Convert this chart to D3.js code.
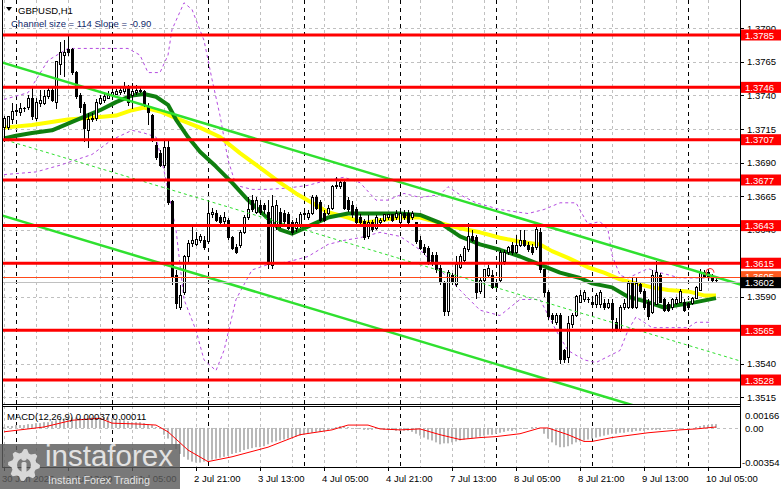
<!DOCTYPE html>
<html><head><meta charset="utf-8">
<script src="https://cdn.jsdelivr.net/npm/d3@7"></script>
<style>
body{margin:0;background:#fff;overflow:hidden}
svg{display:block}
text{font-family:"Liberation Sans",Arial,sans-serif}
</style>
</head><body>
<svg id="c" width="781" height="489"></svg>
<script>
// ---------------- DATA ----------------
const symbolTitle = "GBPUSD,H1";
const channelText = "Channel size = 114 Slope = -0.90";
const macdTitle = "MACD(12,26,9) 0.00037 0.00011";

const openP = [1.3716,1.3716,1.3722,1.3728,1.3727,1.3730,1.3731,1.3738,1.3723,1.3734,
1.3734,1.3739,1.3744,1.3735,1.3763,1.3770,1.3774,1.3774,1.3757,1.3740,
1.3733,1.3714,1.3722,1.3723,1.3734,1.3736,1.3738,1.3740,1.3741,1.3742,
1.3743,1.3746,1.3740,1.3742,1.3744,1.3743,1.3732,1.3725,1.3703,1.3697,
1.3688,1.3701,1.3661,1.3606,1.3582,1.3593,1.3620,1.3630,1.3629,1.3632,
1.3632,1.3631,1.3651,1.3652,1.3649,1.3646,1.3647,1.3634,1.3627,1.3628,
1.3638,1.3649,1.3662,1.3653,1.3658,1.3658,1.3653,1.3613,1.3642,1.3653,
1.3652,1.3651,1.3645,1.3641,1.3642,1.3651,1.3649,1.3652,1.3664,1.3660,
1.3652,1.3652,1.3656,1.3673,1.3672,1.3675,1.3662,1.3658,1.3655,1.3649,
1.3646,1.3635,1.3645,1.3641,1.3645,1.3647,1.3649,1.3651,1.3649,1.3645,
1.3652,1.3652,1.3649,1.3645,1.3632,1.3627,1.3626,1.3621,1.3621,1.3611,
1.3601,1.3579,1.3606,1.3599,1.3612,1.3617,1.3625,1.3635,1.3634,1.3594,
1.3602,1.3606,1.3606,1.3601,1.3602,1.3616,1.3623,1.3628,1.3623,1.3628,
1.3632,1.3628,1.3627,1.3627,1.3638,1.3610,1.3593,1.3576,1.3571,1.3576,
1.3550,1.3545,1.3569,1.3576,1.3586,1.3588,1.3588,1.3586,1.3584,1.3584,
1.3585,1.3582,1.3585,1.3571,1.3565,1.3582,1.3582,1.3601,1.3582,1.3599,
1.3594,1.3586,1.3578,1.3584,1.3606,1.3588,1.3584,1.3582,1.3585,1.3586,
1.3586,1.3585,1.3585,1.3589,1.3595,1.3608,1.3608,1.3605,1.3602];
const highP = [1.3725,1.3725,1.3734,1.3732,1.3734,1.3731,1.3740,1.3746,1.3738,1.3744,
1.3744,1.3746,1.3746,1.3765,1.3780,1.3781,1.3785,1.3775,1.3758,1.3742,
1.3735,1.3727,1.3727,1.3737,1.3740,1.3741,1.3743,1.3743,1.3745,1.3746,
1.3750,1.3748,1.3749,1.3748,1.3746,1.3744,1.3734,1.3726,1.3705,1.3699,
1.3706,1.3707,1.3662,1.3610,1.3599,1.3621,1.3632,1.3642,1.3638,1.3637,
1.3635,1.3662,1.3656,1.3655,1.3651,1.3653,1.3649,1.3635,1.3629,1.3640,
1.3651,1.3664,1.3666,1.3664,1.3662,1.3660,1.3662,1.3666,1.3662,1.3656,
1.3655,1.3653,1.3647,1.3649,1.3653,1.3655,1.3655,1.3666,1.3666,1.3662,
1.3655,1.3658,1.3673,1.3679,1.3678,1.3677,1.3664,1.3661,1.3657,1.3652,
1.3648,1.3651,1.3647,1.3651,1.3649,1.3652,1.3652,1.3652,1.3655,1.3655,
1.3655,1.3655,1.3654,1.3646,1.3635,1.3629,1.3628,1.3623,1.3623,1.3614,
1.3602,1.3610,1.3608,1.3620,1.3622,1.3628,1.3645,1.3640,1.3636,1.3605,
1.3611,1.3614,1.3610,1.3603,1.3625,1.3625,1.3628,1.3631,1.3636,1.3640,
1.3640,1.3631,1.3629,1.3645,1.3641,1.3611,1.3595,1.3578,1.3578,1.3578,
1.3551,1.3576,1.3578,1.3591,1.3595,1.3595,1.3590,1.3590,1.3593,1.3595,
1.3588,1.3588,1.3588,1.3574,1.3584,1.3588,1.3602,1.3604,1.3604,1.3601,
1.3596,1.3588,1.3610,1.3617,1.3608,1.3589,1.3586,1.3589,1.3590,1.3596,
1.3588,1.3586,1.3590,1.3598,1.3611,1.3610,1.3611,1.3607,1.3604];
const lowP = [1.3705,1.3714,1.3719,1.3725,1.3725,1.3728,1.3729,1.3722,1.3721,1.3731,
1.3733,1.3737,1.3735,1.3730,1.3755,1.3754,1.3769,1.3755,1.3737,1.3727,
1.3705,1.3701,1.3720,1.3721,1.3733,1.3734,1.3737,1.3738,1.3740,1.3740,
1.3741,1.3732,1.3730,1.3740,1.3742,1.3731,1.3718,1.3705,1.3692,1.3687,
1.3686,1.3658,1.3599,1.3581,1.3580,1.3591,1.3616,1.3627,1.3628,1.3630,
1.3625,1.3630,1.3649,1.3646,1.3643,1.3644,1.3632,1.3625,1.3622,1.3626,
1.3637,1.3647,1.3653,1.3652,1.3651,1.3652,1.3611,1.3611,1.3640,1.3641,
1.3643,1.3640,1.3636,1.3638,1.3640,1.3649,1.3647,1.3651,1.3655,1.3646,
1.3646,1.3651,1.3655,1.3670,1.3670,1.3655,1.3653,1.3649,1.3643,1.3643,
1.3632,1.3633,1.3638,1.3640,1.3643,1.3646,1.3647,1.3646,1.3647,1.3643,
1.3647,1.3643,1.3647,1.3629,1.3625,1.3621,1.3614,1.3613,1.3608,1.3599,
1.3576,1.3576,1.3599,1.3597,1.3611,1.3616,1.3623,1.3631,1.3588,1.3592,
1.3589,1.3605,1.3596,1.3595,1.3600,1.3614,1.3621,1.3621,1.3622,1.3627,
1.3627,1.3623,1.3621,1.3625,1.3608,1.3590,1.3573,1.3570,1.3569,1.3540,
1.3541,1.3541,1.3567,1.3575,1.3585,1.3586,1.3585,1.3582,1.3582,1.3582,
1.3580,1.3581,1.3564,1.3564,1.3564,1.3580,1.3581,1.3581,1.3581,1.3592,
1.3580,1.3573,1.3577,1.3584,1.3585,1.3579,1.3579,1.3580,1.3584,1.3585,
1.3579,1.3580,1.3584,1.3588,1.3594,1.3604,1.3602,1.3601,1.3600];
const closeP = [1.3723,1.3724,1.3728,1.3729,1.3730,1.3730,1.3738,1.3724,1.3735,1.3736,
1.3739,1.3744,1.3736,1.3765,1.3772,1.3772,1.3772,1.3757,1.3739,1.3731,
1.3715,1.3722,1.3723,1.3735,1.3738,1.3739,1.3740,1.3742,1.3743,1.3744,
1.3746,1.3735,1.3743,1.3744,1.3743,1.3733,1.3727,1.3707,1.3694,1.3688,
1.3701,1.3660,1.3605,1.3585,1.3591,1.3620,1.3630,1.3632,1.3633,1.3635,
1.3627,1.3652,1.3653,1.3647,1.3645,1.3649,1.3634,1.3626,1.3623,1.3638,
1.3649,1.3655,1.3655,1.3662,1.3653,1.3655,1.3614,1.3657,1.3658,1.3643,
1.3646,1.3641,1.3638,1.3645,1.3651,1.3652,1.3652,1.3664,1.3656,1.3647,
1.3647,1.3656,1.3672,1.3672,1.3675,1.3656,1.3655,1.3651,1.3645,1.3645,
1.3634,1.3645,1.3640,1.3649,1.3647,1.3651,1.3651,1.3647,1.3652,1.3652,
1.3649,1.3645,1.3652,1.3631,1.3626,1.3623,1.3616,1.3615,1.3610,1.3601,
1.3579,1.3608,1.3601,1.3614,1.3620,1.3626,1.3635,1.3632,1.3593,1.3602,
1.3610,1.3611,1.3597,1.3597,1.3623,1.3623,1.3627,1.3623,1.3628,1.3632,
1.3628,1.3625,1.3623,1.3640,1.3610,1.3593,1.3575,1.3573,1.3576,1.3543,
1.3543,1.3570,1.3576,1.3590,1.3591,1.3593,1.3588,1.3584,1.3591,1.3593,
1.3582,1.3585,1.3573,1.3565,1.3582,1.3585,1.3600,1.3582,1.3600,1.3594,
1.3582,1.3575,1.3606,1.3608,1.3586,1.3580,1.3580,1.3588,1.3588,1.3594,
1.3580,1.3582,1.3589,1.3597,1.3608,1.3605,1.3604,1.3602,1.3602];

// moving averages (bar index, price)
const maFastIdx = [0,7,16,24,28,32,35,39,43,49,54,59,65,69,73,77,81,86,90,94,99,104,109,114,119,124,129,134,137,141,146,150,154,158,162,166,171,175,178];
const maFastVal = [1.3716,1.3718,1.3722,1.3724,1.3725,1.3729,1.3731,1.3728,1.3723,1.3716,1.3709,1.3697,1.3684,1.3675,1.3667,1.3660,1.3653,1.3649,1.3645,1.3647,1.3649,1.3649,1.3645,1.3641,1.3638,1.3634,1.3631,1.3629,1.3624,1.3619,1.3612,1.3608,1.3603,1.3600,1.3597,1.3595,1.3594,1.3591,1.3591];
const maSlowIdx = [0,3,7,12,16,20,24,28,32,35,38,41,43,46,49,53,57,61,65,69,72,75,78,81,86,90,94,99,104,109,114,119,124,129,134,139,144,147,152,156,161,165,169,173,178];
const maSlowVal = [1.3708,1.3710,1.3712,1.3714,1.3719,1.3724,1.3729,1.3735,1.3740,1.3741,1.3739,1.3733,1.3722,1.3709,1.3698,1.3687,1.3675,1.3662,1.3651,1.3640,1.3637,1.3641,1.3645,1.3649,1.3652,1.3652,1.3652,1.3652,1.3651,1.3645,1.3635,1.3629,1.3625,1.3620,1.3614,1.3608,1.3604,1.3600,1.3597,1.3590,1.3586,1.3582,1.3584,1.3586,1.3589];

// envelope bands (bar index, price)
const bandUpIdx = [0,6,11,16,24,31,34,36,39,41,42,45,47,50,52,54,56,58,62,66,71,76,81,85,89,93,96,100,104,109,111,114,118,124,131,135,139,143,146,149,151,152,154,156,161,164,169,177];
const bandUpVal = [1.3737,1.3742,1.3766,1.3775,1.3775,1.3775,1.3770,1.3757,1.3757,1.3770,1.3789,1.3809,1.3804,1.3781,1.3752,1.3725,1.3692,1.3673,1.3670,1.3670,1.3671,1.3673,1.3677,1.3679,1.3675,1.3662,1.3662,1.3667,1.3664,1.3666,1.3672,1.3666,1.3660,1.3655,1.3652,1.3655,1.3660,1.3660,1.3644,1.3646,1.3640,1.3621,1.3606,1.3604,1.3611,1.3608,1.3604,1.3604];
const bandLoIdx = [0,8,14,22,27,32,35,38,40,43,45,48,50,53,55,58,62,66,71,76,81,85,89,94,99,104,109,114,119,124,129,134,138,141,145,148,152,154,156,158,162,166,171,173,177];
const bandLoVal = [1.3681,1.3683,1.3688,1.3696,1.3707,1.3714,1.3712,1.3709,1.3684,1.3640,1.3588,1.3565,1.3543,1.3535,1.3550,1.3588,1.3610,1.3614,1.3616,1.3620,1.3629,1.3632,1.3634,1.3638,1.3635,1.3625,1.3610,1.3595,1.3580,1.3576,1.3588,1.3588,1.3565,1.3550,1.3543,1.3541,1.3547,1.3550,1.3565,1.3575,1.3567,1.3567,1.3567,1.3571,1.3571];

// regression channel anchors (bar index, price)
const channelIdx = [-1, 184.25];
const channelUpper = [1.3765, 1.3599];
const channelSize = 0.0114;

// horizontal levels
const levels = [1.3785,1.3746,1.3707,1.3677,1.3643,1.3615,1.3565,1.3528];
const askPrice = 1.3605;
const bidPrice = 1.3602;

// axes
const priceTicks = [1.3790,1.3765,1.3740,1.3715,1.3690,1.3665,1.3640,1.3615,1.3590,1.3565,1.3540,1.3515];
const macdTicks = [0.00166,0,-0.00354];
const macdTickLabels = ["0.00166","0.00","-0.00354"];
const timeLabelIdx = [0,16,32,48,64,80,96,112,128,144,160,176];
const timeLabels = ["30 Jun 2025","1 Jul 13:00","2 Jul 05:00","2 Jul 21:00","3 Jul 13:00","4 Jul 05:00","4 Jul 21:00","7 Jul 13:00","8 Jul 05:00","8 Jul 21:00","9 Jul 13:00","10 Jul 05:00"];
const gridStep = 8;      // bars between vertical grid lines
const daySepStart = 3, daySepStep = 24;

// MACD
const macdMain = [0.0001,0.0002,0.0002,0.0003,0.0003,0.0003,0.0004,
0.0004,0.0005,0.0005,0.0006,0.0006,0.0007,0.0008,0.0009,0.0010,0.0010,
0.0011,0.0011,0.0010,0.0010,0.0010,0.0011,0.0011,0.0011,0.0011,0.0011,
0.0010,0.0009,0.0009,0.0008,0.0007,0.0006,0.0006,0.0006,0.0005,0.0004,
0.0003,0.0001,-0.0001,
-0.0007,-0.0011,-0.0017,-0.0022,
-0.0027,-0.0030,-0.0033,-0.0035,-0.0036,-0.0036,
-0.0035,-0.0034,-0.0033,-0.0032,-0.0031,-0.0030,-0.0029,-0.0027,
-0.0026,-0.0025,-0.0023,-0.0022,-0.0021,-0.0020,-0.0020,-0.0019,-0.0017,
-0.0015,-0.0014,-0.0013,-0.0012,-0.0011,-0.0010,-0.0009,-0.0008,
-0.0007,-0.0006,-0.0005,-0.0004,-0.0004,-0.0003,-0.0002,-0.0001,
0.0001,0.0002,0.0002,0.0001,
0.0000,-0.0001,-0.0001,-0.0002,-0.0002,-0.0002,-0.0001,-0.0001,
-0.0002,-0.0002,-0.0002,-0.0003,-0.0003,-0.0003,-0.0003,-0.0004,
-0.0006,-0.0008,-0.0010,-0.0012,-0.0013,-0.0015,
-0.0017,-0.0016,-0.0016,-0.0015,-0.0014,
-0.0013,-0.0012,-0.0011,-0.0011,-0.0010,-0.0009,
-0.0008,-0.0007,-0.0007,-0.0006,
-0.0005,-0.0004,-0.0003,-0.0003,-0.0002,-0.0001,
-0.0001,0.0000,0.0001,0.0001,0.0000,
-0.0006,-0.0011,-0.0015,
-0.0018,-0.0020,-0.0020,-0.0019,
-0.0017,-0.0015,-0.0014,
-0.0013,-0.0012,-0.0011,-0.0010,-0.0009,-0.0008,-0.0007,-0.0006,
-0.0006,-0.0005,-0.0005,-0.0004,-0.0004,-0.0003,-0.0003,-0.0003,-0.0002,
-0.0002,-0.0002,-0.0002,-0.0001,-0.0001,-0.0001,-0.0001,-0.0001,
0.0000,0.0000,0.0000,0.0001,
0.0002,0.0003,0.0003,0.0004,0.0004];
const signalIdx = [0,10,17,24,27,34,38,41,46,51,57,66,74,82,86,91,94,99,104,109,114,119,123,129,134,136,141,145,147,152,161,169,173,178];
const signalVal = [-0.0004,0.0001,0.0008,0.0010,0.0005,0.0004,0.0003,-0.0004,-0.0023,-0.0035,-0.0030,-0.0020,-0.0007,-0.0002,0.0003,0.0003,-0.0001,-0.0002,-0.0001,-0.0007,-0.0012,-0.0010,-0.0009,-0.0006,0.0000,0.0000,-0.0007,-0.0014,-0.0014,-0.0010,-0.0005,-0.0002,-0.0001,0.0001];

// ---------------- DRAWING ----------------
const svg = d3.select("#c");
const L = 3, R = 740, mainTop = 0, mainBot = 404, mTop = 406, mBot = 467;
const nBars = openP.length;
const x = d3.scaleLinear().domain([0, 178]).range([4, 716]);
const y = d3.scaleLinear().domain([1.3785, 1.3528]).range([35, 380]);
const ym = d3.scaleLinear().domain([0.00166, -0.00354]).range([412, 462]);
const bars = d3.range(nBars);

svg.append("rect").attr("width",781).attr("height",489).attr("fill","#fff");
const defs = svg.append("defs");
defs.append("clipPath").attr("id","cm").append("rect").attr("x",L).attr("y",mainTop).attr("width",R-L).attr("height",mainBot-mainTop);
defs.append("clipPath").attr("id","cd").append("rect").attr("x",L).attr("y",mTop).attr("width",R-L).attr("height",mBot-mTop);

const gMain = svg.append("g").attr("clip-path","url(#cm)");
const gMacd = svg.append("g").attr("clip-path","url(#cd)");

// grid
const gridV = d3.range(0, 190, gridStep);
[gMain, gMacd].forEach((g,k) => {
  const top = k===0?mainTop:mTop, bot = k===0?mainBot:mBot;
  g.selectAll(null).data(gridV).join("line")
    .attr("x1",d=>Math.round(x(d))+0.5).attr("x2",d=>Math.round(x(d))+0.5)
    .attr("y1",top).attr("y2",bot)
    .attr("stroke","#c0c0c0").attr("stroke-dasharray","3,3");
  const seps = d3.range(daySepStart, 190, daySepStep);
  g.selectAll(null).data(seps).join("line")
    .attr("x1",d=>Math.round(x(d))+0.5).attr("x2",d=>Math.round(x(d))+0.5)
    .attr("y1",top).attr("y2",bot)
    .attr("stroke","#000").attr("stroke-dasharray","4,4");
});
gMain.selectAll(null).data(priceTicks).join("line")
  .attr("x1",L).attr("x2",R)
  .attr("y1",d=>Math.round(y(d))+0.5).attr("y2",d=>Math.round(y(d))+0.5)
  .attr("stroke","#c0c0c0").attr("stroke-dasharray","3,3");

// bands
const lineGen = (xs, vs, sc) => d3.line().x((d,i)=>x(xs[i])).y((d,i)=>sc(vs[i]))(vs);
gMain.append("path").attr("d", lineGen(bandUpIdx, bandUpVal, y)).attr("fill","none")
  .attr("stroke","#b44be0").attr("stroke-width",1).attr("stroke-dasharray","3,3");
gMain.append("path").attr("d", lineGen(bandLoIdx, bandLoVal, y)).attr("fill","none")
  .attr("stroke","#b44be0").attr("stroke-width",1).attr("stroke-dasharray","3,3");

// moving averages
gMain.append("path").attr("d", lineGen(maFastIdx, maFastVal, y)).attr("fill","none")
  .attr("stroke","#ffff00").attr("stroke-width",4).attr("stroke-linejoin","round");
gMain.append("path").attr("d", lineGen(maSlowIdx, maSlowVal, y)).attr("fill","none")
  .attr("stroke","#0f7f0f").attr("stroke-width",4).attr("stroke-linejoin","round");

// candles
const cg = gMain.append("g").attr("shape-rendering","crispEdges");
cg.selectAll("line.w").data(bars).join("line")
  .attr("x1",i=>Math.round(x(i))+0.5).attr("x2",i=>Math.round(x(i))+0.5)
  .attr("y1",i=>y(highP[i])).attr("y2",i=>y(lowP[i]))
  .attr("stroke","#000");
cg.selectAll("rect.b").data(bars).join("rect")
  .attr("x",i=>Math.round(x(i))-0.5)
  .attr("y",i=>Math.min(y(openP[i]),y(closeP[i])))
  .attr("width",2)
  .attr("height",i=>Math.max(0.01,Math.abs(y(openP[i])-y(closeP[i]))))
  .attr("fill",i=>closeP[i]>openP[i]?"#fff":"#000")
  .attr("stroke","#000").attr("stroke-width",1);

// channel lines
[[0,"solid"],[channelSize/2,"dash"],[channelSize,"solid"]].forEach(([off,st])=>{
  const l = gMain.append("line")
    .attr("x1",x(channelIdx[0])).attr("x2",x(channelIdx[1]))
    .attr("y1",y(channelUpper[0]-off)).attr("y2",y(channelUpper[1]-off))
    .attr("stroke","#2fe02f");
  if (st==="dash") l.attr("stroke-width",1).attr("stroke-dasharray","3,3");
  else l.attr("stroke-width",2.5);
});

// ask / bid lines
gMain.append("line").attr("x1",L).attr("x2",R).attr("y1",Math.round(y(askPrice))+0.5).attr("y2",Math.round(y(askPrice))+0.5).attr("stroke","#ff4a1a");
gMain.append("line").attr("x1",L).attr("x2",R).attr("y1",Math.round(y(bidPrice))+1.5).attr("y2",Math.round(y(bidPrice))+1.5).attr("stroke","#c0c0c0");

// levels
gMain.selectAll(null).data(levels).join("line")
  .attr("x1",L).attr("x2",R).attr("y1",d=>y(d)).attr("y2",d=>y(d))
  .attr("stroke","#ff0000").attr("stroke-width",3);

// small red circle
gMain.append("path").attr("d", d3.arc()({innerRadius:3.5,outerRadius:4.5,startAngle:-2.2,endAngle:1.6}))
  .attr("transform",`translate(${x(177)-2},${y(1.3608)})`).attr("fill","#ff3030");

// frames
const fr = svg.append("g").attr("fill","none").attr("stroke","#000").attr("shape-rendering","crispEdges");
fr.append("line").attr("x1",R+0.5).attr("x2",R+0.5).attr("y1",0).attr("y2",mBot+1);
fr.append("line").attr("x1",L-0.5).attr("x2",L-0.5).attr("y1",0).attr("y2",mBot+1);
fr.append("line").attr("x1",L).attr("x2",R).attr("y1",mainBot+0.5).attr("y2",mainBot+0.5);
fr.append("line").attr("x1",L).attr("x2",R).attr("y1",mTop+0.5).attr("y2",mTop+0.5);
fr.append("line").attr("x1",L-1).attr("x2",R+1).attr("y1",mBot+0.5).attr("y2",mBot+0.5);

// price axis (labels fully hidden under a level box are not drawn)
const visibleTicks = priceTicks.filter(t => !levels.some(l => Math.abs(y(l)-y(t)) < 2));
const ax = svg.append("g");
ax.selectAll(null).data(priceTicks).join("line")
  .attr("x1",R).attr("x2",R+4).attr("y1",d=>Math.round(y(d))+0.5).attr("y2",d=>Math.round(y(d))+0.5)
  .attr("stroke","#000");
ax.selectAll(null).data(visibleTicks).join("text")
  .attr("x",747).attr("y",d=>y(d)+3.6).attr("font-size","9.5px").attr("fill","#000")
  .text(d=>d.toFixed(4));
// level labels
const lab = svg.append("g");
lab.selectAll(null).data(levels).join("rect")
  .attr("x",R+1).attr("y",d=>y(d)-5.5).attr("width",40).attr("height",11).attr("fill","#ff0000");
lab.selectAll(null).data(levels).join("text")
  .attr("x",745).attr("y",d=>y(d)+3.6).attr("font-size","9.5px").attr("fill","#fff")
  .text(d=>d.toFixed(4));
lab.append("rect").attr("x",R+1).attr("y",y(askPrice)-5.5).attr("width",40).attr("height",11).attr("fill","#ff5a1e");
lab.append("text").attr("x",745).attr("y",y(askPrice)+3.6).attr("font-size","9.5px").attr("fill","#fff").text(askPrice.toFixed(4));
lab.append("rect").attr("x",R+1).attr("y",y(bidPrice)-3.5).attr("width",40).attr("height",11).attr("fill","#000");
lab.append("text").attr("x",745).attr("y",y(bidPrice)+5.6).attr("font-size","9.5px").attr("fill","#fff").text(bidPrice.toFixed(4));

// MACD
gMacd.append("line").attr("x1",L).attr("x2",R).attr("y1",Math.round(ym(0))+0.5).attr("y2",Math.round(ym(0))+0.5)
  .attr("stroke","#c0c0c0").attr("stroke-dasharray","3,3");
gMacd.selectAll(null).data(bars).join("rect")
  .attr("x",i=>Math.round(x(i))-1).attr("width",2)
  .attr("y",i=>Math.min(ym(0),ym(macdMain[i])))
  .attr("height",i=>Math.abs(ym(macdMain[i])-ym(0)))
  .attr("fill","#b8b8b8");
gMacd.append("path").attr("d", lineGen(signalIdx, signalVal, ym)).attr("fill","none")
  .attr("stroke","#ff0000").attr("stroke-width",1);
svg.append("text").attr("x",7).attr("y",420).attr("font-size","9.5px").attr("fill","#000").text(macdTitle);
ax.selectAll(null).data(macdTicks).join("text")
  .attr("x",(d)=>d<0?742:745).attr("y",d=>Math.max(ym(d),415)+3.6).attr("font-size","9.5px").attr("fill","#000")
  .text((d,i)=>macdTickLabels[i]);

// time axis
ax.selectAll(null).data(timeLabelIdx).join("line")
  .attr("x1",i=>Math.round(x(i))+0.5).attr("x2",i=>Math.round(x(i))+0.5)
  .attr("y1",mBot).attr("y2",mBot+4).attr("stroke","#000");
ax.selectAll(null).data(timeLabelIdx).join("text")
  .attr("x",i=>x(i)-2).attr("y",482).attr("font-size","9.5px").attr("fill","#000")
  .text((d,k)=>timeLabels[k]);

// title
svg.append("path").attr("d","M6,7 L12,7 L9,11 Z").attr("fill","#000");
svg.append("text").attr("x",18).attr("y",14).attr("font-size","9.5px").attr("fill","#000").text(symbolTitle);
svg.append("text").attr("x",11).attr("y",27).attr("font-size","9.5px").attr("fill","#10286a").text(channelText);

// watermark logo
const logo = svg.append("g");
logo.append("rect").attr("x",0).attr("y",444).attr("width",180).attr("height",45).attr("fill","#5c5c5c").attr("opacity",0.82);
const gear = logo.append("g").attr("transform","translate(24,465)").attr("fill","#d8d8d8");
const teeth = 8;
const gearPts = [];
for (let k=0;k<teeth*4;k++){
  const a = k/(teeth*4)*2*Math.PI;
  const r = (k%4===0||k%4===1)?16:12.5;
  gearPts.push([Math.cos(a)*r, Math.sin(a)*r]);
}
gear.append("path").attr("d", d3.line().curve(d3.curveLinearClosed)(gearPts) + " M7,0 A7,7 0 1,0 -7,0 A7,7 0 1,0 7,0 Z").attr("fill-rule","evenodd");
gear.append("rect").attr("x",-2.5).attr("y",-3).attr("width",5).attr("height",14).attr("rx",1.5);
gear.append("circle").attr("cx",0).attr("cy",-7).attr("r",2.8);
logo.append("text").attr("x",45).attr("y",466).attr("font-size","30px").attr("fill","#e2e2e2")
  .attr("font-family","'Open Sans',sans-serif").attr("textLength",128).attr("lengthAdjust","spacingAndGlyphs").text("instaforex");
logo.append("text").attr("x",48).attr("y",484).attr("font-size","11px").attr("fill","#e2e2e2")
  .attr("textLength",102).attr("lengthAdjust","spacingAndGlyphs").text("Instant Forex Trading");
</script>
</body></html>
